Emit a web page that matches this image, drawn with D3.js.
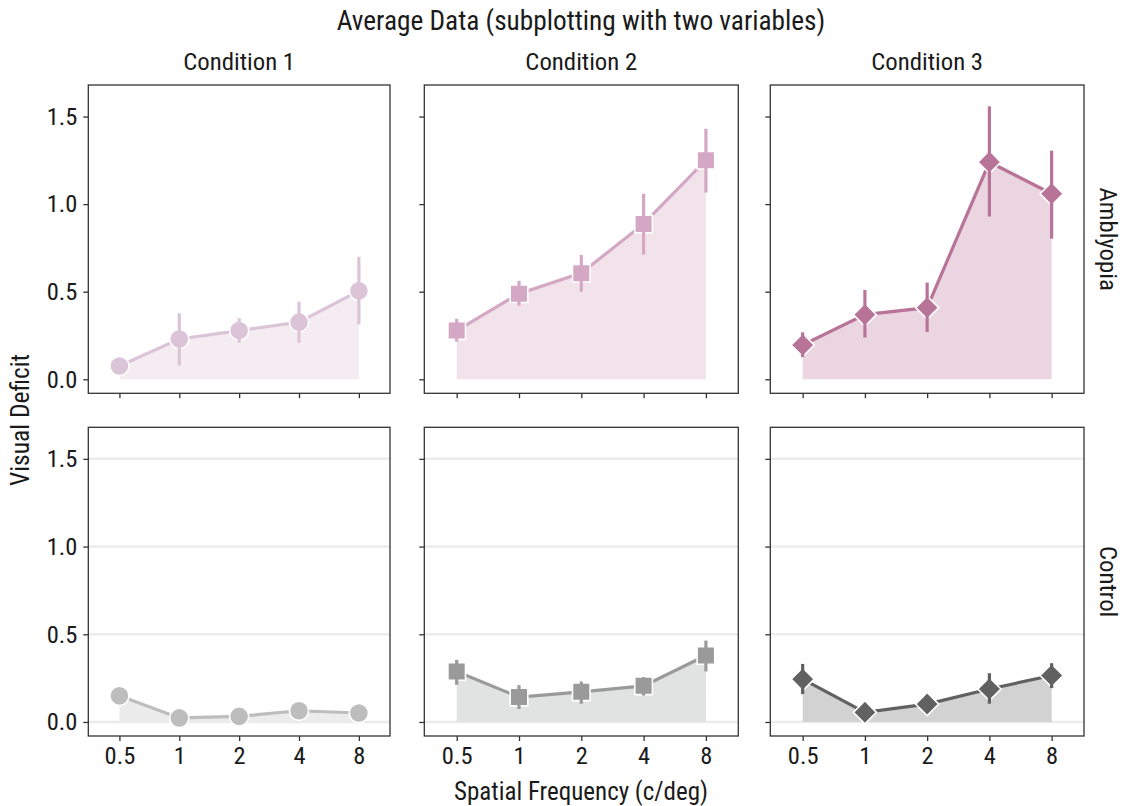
<!DOCTYPE html>
<html>
<head>
<meta charset="utf-8">
<script src="https://cdn.jsdelivr.net/npm/d3@7"></script>
<style>
  body { margin: 0; background: #fff; }
  text { font-family: "Liberation Sans Narrow", "Roboto Condensed", "DejaVu Sans Condensed", Roboto, sans-serif; fill: #1a1a1a; }
</style>
</head>
<body>
<script>
(() => {
  const freqs = ['0.5', '1', '2', '4', '8'];
  const conditions = ['Condition 1', 'Condition 2', 'Condition 3'];
  const groups = ['Amblyopia', 'Control'];
  const yTicks = [0, 0.5, 1.0, 1.5];

  // means and error bar ends
  const amb1 = [0.076, 0.23, 0.278, 0.326, 0.505];
  const amb1Lo = [0.05, 0.078, 0.209, 0.209, 0.314];
  const amb1Hi = [0.10, 0.377, 0.349, 0.443, 0.699];
  const amb2 = [0.278, 0.489, 0.606, 0.887, 1.251];
  const amb2Lo = [0.215, 0.421, 0.50, 0.712, 1.066];
  const amb2Hi = [0.345, 0.562, 0.71, 1.059, 1.43];
  const amb3 = [0.196, 0.369, 0.409, 1.24, 1.059];
  const amb3Lo = [0.126, 0.238, 0.27, 0.929, 0.803];
  const amb3Hi = [0.268, 0.51, 0.552, 1.558, 1.305];
  const ctl1 = [0.149, 0.023, 0.032, 0.064, 0.051];
  const ctl1Lo = [0.12, 0.005, 0.012, 0.04, 0.03];
  const ctl1Hi = [0.18, 0.04, 0.05, 0.09, 0.07];
  const ctl2 = [0.288, 0.142, 0.172, 0.206, 0.379];
  const ctl2Lo = [0.212, 0.074, 0.104, 0.151, 0.288];
  const ctl2Hi = [0.354, 0.21, 0.231, 0.256, 0.464];
  const ctl3 = [0.244, 0.055, 0.102, 0.188, 0.265];
  const ctl3Lo = [0.159, 0.03, 0.08, 0.104, 0.193];
  const ctl3Hi = [0.331, 0.08, 0.125, 0.278, 0.335];

  const series = [
    [[amb1, amb1Lo, amb1Hi], [amb2, amb2Lo, amb2Hi], [amb3, amb3Lo, amb3Hi]],
    [[ctl1, ctl1Lo, ctl1Hi], [ctl2, ctl2Lo, ctl2Hi], [ctl3, ctl3Lo, ctl3Hi]],
  ];

  const markColors = [
    ['#dcc4d8', '#d4a8c4', '#b87398'],
    ['#bdbdbd', '#9a9a9a', '#616161'],
  ];
  const areaColors = [
    ['#f5ecf2', '#f2e3eb', '#ebd5e1'],
    ['#ececec', '#e1e2e2', '#d2d2d2'],
  ];
  const shapes = [d3.symbolCircle, d3.symbolSquare, d3.symbolDiamond2];
  const shapeSizes = [290, 310, 340];

  const width = 1127;
  const height = 806;
  const cols = [[88.3, 390], [424.3, 738.3], [770.3, 1084]];
  const rows = [[85, 393.3], [427.3, 736]];

  const svg = d3.select('body').append('svg')
    .attr('width', width).attr('height', height);

  for (let r = 0; r < 2; r++) {
    for (let c = 0; c < 3; c++) {
      const [x0, x1] = cols[c];
      const [y0, y1] = rows[r];
      const x = d3.scalePoint().domain(freqs).range([x0, x1]).padding(0.52);
      const y = d3.scaleLinear().domain([-0.08, 1.68]).range([y1, y0]);
      const [mean, lo, hi] = series[r][c];
      const pts = freqs.map((f, i) => ({ f, v: mean[i], lo: lo[i], hi: hi[i] }));
      const g = svg.append('g');

      if (r === 1) {
        g.append('g').selectAll('line').data(yTicks).enter().append('line')
          .attr('x1', x0).attr('x2', x1)
          .attr('y1', (d) => y(d)).attr('y2', (d) => y(d))
          .attr('stroke', '#ebebeb').attr('stroke-width', 2.5);
      }

      g.append('path').datum(pts)
        .attr('fill', areaColors[r][c])
        .attr('d', d3.area().x((d) => x(d.f)).y0(y(0)).y1((d) => y(d.v)));

      g.append('path').datum(pts)
        .attr('fill', 'none')
        .attr('stroke', markColors[r][c])
        .attr('stroke-width', 3.2)
        .attr('d', d3.line().x((d) => x(d.f)).y((d) => y(d.v)));

      g.append('g').selectAll('path').data(pts).enter().append('path')
        .attr('transform', (d) => `translate(${x(d.f)},${y(d.v)})`)
        .attr('d', d3.symbol().type(shapes[c]).size(shapeSizes[c]))
        .attr('fill', markColors[r][c])
        .attr('stroke', '#fff').attr('stroke-width', 1.6);

      g.append('g').selectAll('line').data(pts).enter().append('line')
        .attr('x1', (d) => x(d.f)).attr('x2', (d) => x(d.f))
        .attr('y1', (d) => y(d.lo)).attr('y2', (d) => y(d.hi))
        .attr('stroke', markColors[r][c]).attr('stroke-width', 3.2);

      const xAxis = d3.axisBottom(x).tickSize(5).tickPadding(6);
      if (r === 0) xAxis.tickFormat('');
      const xg = g.append('g').attr('transform', `translate(0,${y1})`).call(xAxis);

      const yAxis = d3.axisLeft(y).tickValues(yTicks).tickSize(5).tickPadding(6)
        .tickFormat(d3.format('.1f'));
      if (c > 0) yAxis.tickFormat('');
      const yg = g.append('g').attr('transform', `translate(${x0},0)`).call(yAxis);

      [xg, yg].forEach((a) => {
        a.select('.domain').remove();
        a.selectAll('line').attr('stroke', '#333').attr('stroke-width', 1.3);
        a.selectAll('text').attr('font-size', 24.5).attr('fill', '#222')
          .style('font-family', null);
      });

      g.append('rect')
        .attr('x', x0).attr('y', y0)
        .attr('width', x1 - x0).attr('height', y1 - y0)
        .attr('fill', 'none').attr('stroke', '#333').attr('stroke-width', 1.3);

      if (r === 0) {
        svg.append('text')
          .attr('x', (x0 + x1) / 2).attr('y', 70)
          .attr('text-anchor', 'middle').attr('font-size', 24.8)
          .text(conditions[c]);
      }
      if (c === 2) {
        svg.append('text')
          .attr('transform', `translate(1100,${(y0 + y1) / 2}) rotate(90)`)
          .attr('text-anchor', 'middle').attr('font-size', 24.8)
          .text(groups[r]);
      }
    }
  }

  svg.append('text')
    .attr('x', 581).attr('y', 30)
    .attr('text-anchor', 'middle').attr('font-size', 27.3)
    .text('Average Data (subplotting with two variables)');

  svg.append('text')
    .attr('x', 581).attr('y', 800)
    .attr('text-anchor', 'middle').attr('font-size', 25)
    .text('Spatial Frequency (c/deg)');

  svg.append('text')
    .attr('transform', 'translate(29,420) rotate(-90)')
    .attr('text-anchor', 'middle').attr('font-size', 25.5)
    .text('Visual Deficit');
})();
</script>
</body>
</html>
